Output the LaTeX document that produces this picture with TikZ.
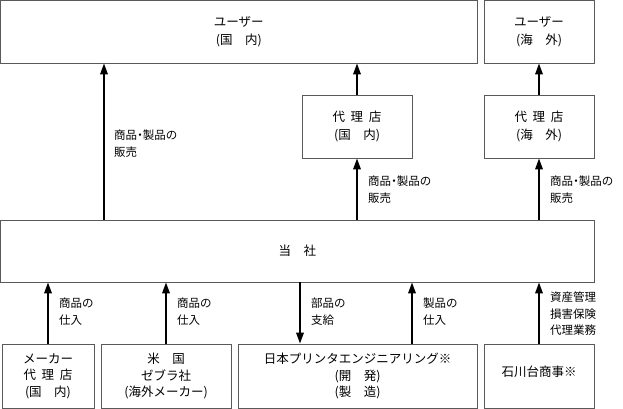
\documentclass[tikz,border=0pt]{standalone}
\usepackage{fontspec}
\newfontfamily\jp{Noto Sans CJK JP}
\newfontfamily\jpp[RawFeature=+palt]{Noto Sans CJK JP}
\usetikzlibrary{arrows.meta}
\newcommand\hs{\hspace{0.45em}}
\begin{document}
\begin{tikzpicture}[x=1pt,y=-1pt,
  box/.style={draw=black!65,line width=0.8pt,rectangle,inner sep=0pt,align=center,
    font=\jp\fontsize{12.5}{18}\selectfont},
  lowbox/.style={box,font=\jp\fontsize{12.5}{16.5}\selectfont},
  arr/.style={line width=1.8pt,-{Triangle[length=11pt,width=7.5pt]}},
  lbl/.style={anchor=west,align=left,inner sep=0pt,font=\jpp\fontsize{11.5}{17}\selectfont},
  lowlbl/.style={lbl,font=\jpp\fontsize{11.5}{17}\selectfont}]
\useasboundingbox (0,0) rectangle (623,409);
% boxes
\node[box,minimum width=476.5pt,minimum height=62.5pt] (ud) at (238.75,31.75) {ユーザー\\(国　内)};
\node[box,minimum width=110pt,minimum height=62.5pt] (uo) at (539,31.75) {ユーザー\\(海　外)};
\node[box,minimum width=110pt,minimum height=63pt] (ad) at (357,126.5) {代\hs 理\hs 店\\(国　内)};
\node[box,minimum width=110pt,minimum height=63pt] (ao) at (539,126.5) {代\hs 理\hs 店\\(海　外)};
\node[box,minimum width=593.5pt,minimum height=62pt] (co) at (297.25,251) {当　社};
\node[lowbox,minimum width=92pt,minimum height=64pt] (b1) at (48,376) {メーカー\\代\hs 理\hs 店\\(国　内)};
\node[lowbox,minimum width=130pt,minimum height=64pt] (b2) at (166,376) {米　国\\ゼブラ社\\(海外メーカー)};
\node[lowbox,minimum width=239pt,minimum height=64pt] (b3) at (357.5,376) {日本プリンタエンジニアリング※\\(開　発)\\(製　造)};
\node[lowbox,minimum width=110pt,minimum height=64pt] (b4) at (539,376) {\raisebox{10pt}{石川台商事※}};
% arrow x positions
\coordinate (xa) at (104,0);
\coordinate (xb) at (357,0);
\coordinate (xc) at (539,0);
\coordinate (x1) at (48,0);
\coordinate (x2) at (166,0);
\coordinate (x3) at (300,0);
\coordinate (x4) at (412,0);
% upper arrows
\draw[arr] (co.north -| xa) -- (ud.south -| xa);
\draw[arr] (co.north -| xb) -- (ad.south -| xb);
\draw[arr] (ad.north -| xb) -- (ud.south -| xb);
\draw[arr] (co.north -| xc) -- (ao.south -| xc);
\draw[arr] (ao.north -| xc) -- (uo.south -| xc);
% lower arrows
\draw[arr] (b1.north -| x1) -- (co.south -| x1);
\draw[arr] (b2.north -| x2) -- (co.south -| x2);
\draw[arr] (co.south -| x3) -- (b3.north -| x3);
\draw[arr] (b3.north -| x4) -- (co.south -| x4);
\draw[arr] (b4.north -| xc) -- (co.south -| xc);
% labels
\node[lbl] (la) at (114,143.5) {商品・製品の\\販売};
\node[lbl] (lb) at (368,189.5) {商品・製品の\\販売};
\node[lbl] (lc) at (550,189.5) {商品・製品の\\販売};
\node[lowlbl] (l1) at (59,312) {商品の\\仕入};
\node[lowlbl] (l2) at (177,312) {商品の\\仕入};
\node[lowlbl] (l3) at (311,312) {部品の\\支給};
\node[lowlbl] (l4) at (423,312) {製品の\\仕入};
\node[lbl,font=\jpp\fontsize{11.5}{16.5}\selectfont] (l5) at (550,314) {資産管理\\損害保険\\代理業務};
\end{tikzpicture}
\end{document}
